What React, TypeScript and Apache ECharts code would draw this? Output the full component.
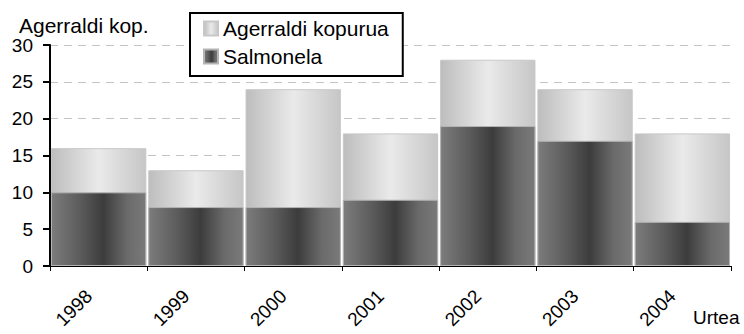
import React, { useEffect, useRef } from "react";
import * as echarts from "echarts";

// Yearly outbreak counts and the Salmonella share of them
const years = ["1998", "1999", "2000", "2001", "2002", "2003", "2004"];
const outbreaks = [16, 13, 24, 18, 28, 24, 18];
const salmonella = [10, 8, 8, 9, 19, 17, 6];

const FONT = "'Liberation Sans', Arial, sans-serif";

const lightFill = new echarts.graphic.LinearGradient(0, 0, 1, 0, [
  { offset: 0, color: "#bdbdbd" },
  { offset: 0.5, color: "#eaeaea" },
  { offset: 1, color: "#c6c6c6" },
]);

const darkFill = new echarts.graphic.LinearGradient(0, 0, 1, 0, [
  { offset: 0, color: "#7c7c7c" },
  { offset: 0.3, color: "#5c5c5c" },
  { offset: 0.55, color: "#3c3c3c" },
  { offset: 0.8, color: "#6a6a6a" },
  { offset: 1, color: "#7a7a7a" },
]);

export default function App() {
  const ref = useRef<HTMLDivElement>(null);

  useEffect(() => {
    if (!ref.current) return;
    const chart = echarts.init(ref.current, null, { renderer: "svg" });
    chart.setOption({
      animation: false,
      backgroundColor: "#ffffff",
      textStyle: { fontFamily: FONT, color: "#000" },
      grid: { left: 50, right: 13, top: 45, bottom: 68, containLabel: false },
      legend: {
        orient: "vertical",
        left: 190,
        top: 13,
        padding: [5, 14, 9, 13],
        itemGap: 7,
        itemWidth: 14,
        itemHeight: 14,
        borderColor: "#000",
        borderWidth: 2,
        backgroundColor: "#fff",
        textStyle: { fontFamily: FONT, fontSize: 21, color: "#000", padding: [0, 0, 0, 0] },
        data: [
          { name: "Agerraldi kopurua", icon: "rect" },
          { name: "Salmonela", icon: "rect" },
        ],
      },
      xAxis: {
        type: "category",
        data: years,
        boundaryGap: true,
        name: "Urtea",
        nameLocation: "end",
        nameGap: -38,
        nameTextStyle: {
          fontFamily: FONT,
          fontSize: 19,
          color: "#000",
          align: "left",
          verticalAlign: "top",
          padding: [42, 0, 0, 0],
        },
        axisLine: { lineStyle: { color: "#000", width: 1 } },
        axisTick: { show: true, length: 5, inside: false, lineStyle: { color: "#000" } },
        axisLabel: {
          rotate: 45,
          fontFamily: FONT,
          fontSize: 19,
          color: "#000",
          margin: 17,
          padding: [0, 14, 0, 0],
        },
        splitLine: { show: false },
      },
      yAxis: {
        type: "value",
        min: 0,
        max: 30,
        interval: 5,
        name: "Agerraldi kop.",
        nameLocation: "end",
        nameGap: 5,
        nameTextStyle: {
          fontFamily: FONT,
          fontSize: 21,
          color: "#000",
          align: "left",
          padding: [0, 0, 0, -31],
        },
        axisLine: { show: true, lineStyle: { color: "#000", width: 2 } },
        axisTick: { show: true, length: 7, lineStyle: { color: "#000", width: 2 } },
        axisLabel: { fontFamily: FONT, fontSize: 19, color: "#000", margin: 17 },
        splitLine: { show: true, lineStyle: { color: "#c4c4c4", type: [8, 6], width: 1 } },
      },
      series: [
        {
          name: "Agerraldi kopurua",
          type: "bar",
          data: outbreaks,
          barGap: "-100%",
          barCategoryGap: "2%",
          itemStyle: { color: lightFill, borderColor: "#c8c8c8", borderWidth: 1 },
        },
        {
          name: "Salmonela",
          type: "bar",
          data: salmonella,
          barGap: "-100%",
          barCategoryGap: "2%",
          itemStyle: { color: darkFill, borderColor: "#b4b4b4", borderWidth: 1 },
        },
      ],
    });
    return () => chart.dispose();
  }, []);

  return <div ref={ref} style={{ width: 744, height: 334, position: "absolute", left: 0, top: 0 }} />;
}
